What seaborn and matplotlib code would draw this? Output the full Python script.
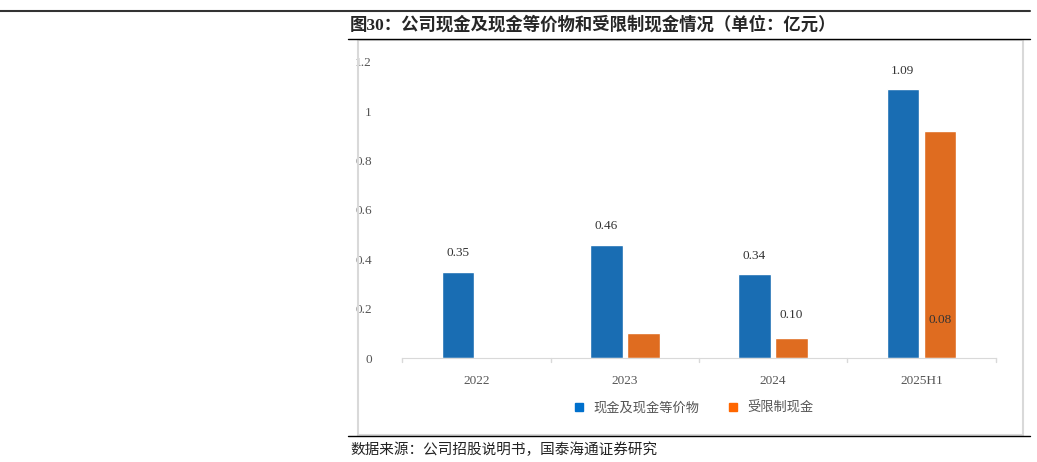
import numpy as np
import pandas as pd
import matplotlib
matplotlib.use("Agg")
import matplotlib.pyplot as plt
import seaborn as sns
from matplotlib.lines import Line2D
from matplotlib.patches import Rectangle

years = ["2022", "2023", "2024", "2025H1"]
cash = [0.35, 0.46, 0.34, 1.09]
restricted = [np.nan, 0.10, 0.08, 0.92]
series = ["现金及现金等价物", "受限制现金"]
colors = ["#0070CC", "#FF6600"]

df = pd.DataFrame({
    "year": years * 2,
    "value": cash + restricted,
    "kind": [series[0]] * 4 + [series[1]] * 4,
})

sns.set_style("white")
plt.rcParams["font.family"] = ["Liberation Serif", "Noto Sans CJK SC", "DejaVu Sans"]

fig = plt.figure(figsize=(10.37, 4.62), dpi=100)
ax = fig.add_axes([0.388, 0.225, 0.572, 0.641])

sns.barplot(data=df, x="year", y="value", hue="kind", palette=colors,
            width=0.5, gap=0.12, ax=ax, legend=False)

# value labels
for cont, vals in zip(ax.containers, [cash, restricted]):
    for patch, v in zip(cont.patches, vals):
        if np.isnan(v):
            continue
        ax.text(patch.get_x() + patch.get_width() / 2, v + 0.05, f"{v:.2f}",
                ha="center", va="bottom", fontsize=9.5, color="#333333")

ax.set_ylim(0, 1.2)
ax.set_xlim(-0.5, 3.5)
ax.set_yticks([0, 0.2, 0.4, 0.6, 0.8, 1, 1.2])
ax.set_yticklabels(["0", "0.2", "0.4", "0.6", "0.8", "1", "1.2"])
ax.set_xlabel("")
ax.set_ylabel("")
for s in ["top", "right", "left"]:
    ax.spines[s].set_visible(False)
ax.spines["bottom"].set_color("#d9d9d9")
ax.tick_params(axis="y", length=0, labelsize=9.5, labelcolor="#555555", pad=22)
ax.tick_params(axis="x", length=0, labelsize=9.5, labelcolor="#555555", pad=12)
for xb in [-0.5, 0.5, 1.5, 2.5, 3.5]:
    ax.plot([xb, xb], [0, -0.015], color="#d9d9d9", lw=1, clip_on=False)

# legend
handles = [Line2D([], [], marker="s", ls="", color=c, markersize=6) for c in colors]
fig.legend(handles, series, loc="center", bbox_to_anchor=(0.665, 0.117), ncol=2,
           frameon=False, handletextpad=0.1, columnspacing=1.5,
           prop={"family": ["Noto Sans CJK SC"], "size": 9.5}, labelcolor="#555555")

# frame and rules
fig.patches.append(Rectangle((358 / 1037, 1 - 435 / 462), 665 / 1037, 395 / 462,
                             transform=fig.transFigure, fill=False,
                             edgecolor="#d9d9d9", lw=1.5))
fig.add_artist(Line2D([0, 1030 / 1037], [1 - 11 / 462] * 2, color="#333333", lw=1.5))
fig.add_artist(Line2D([348 / 1037, 1030 / 1037], [1 - 39 / 462] * 2, color="black", lw=1))
fig.add_artist(Line2D([348 / 1037, 1030 / 1037], [1 - 436 / 462] * 2, color="black", lw=1))

fig.text(350 / 1037, 1 - 25 / 462, "图30：公司现金及现金等价物和受限制现金情况（单位：亿元）",
         fontsize=12.5, fontweight="bold", va="center",
         family=["Liberation Serif", "Noto Sans CJK SC"])
fig.text(350 / 1037, 1 - 450 / 462, "数据来源：公司招股说明书，国泰海通证券研究",
         fontsize=10.5, va="center", family=["Noto Sans CJK SC"], color="#222222")

fig.savefig("out.png", dpi=100)
